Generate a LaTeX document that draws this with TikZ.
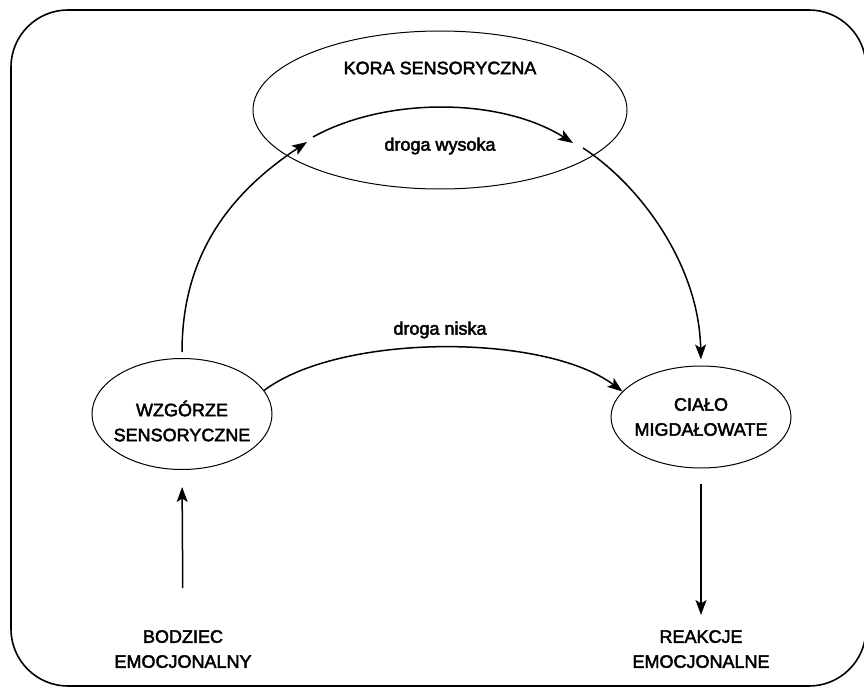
\documentclass[tikz,border=0pt]{standalone}
\usepackage{fontspec}
\setmainfont{Liberation Sans}[FakeBold=2.5]
\usetikzlibrary{shapes.geometric,arrows.meta}
\begin{document}
\begin{tikzpicture}[x=1pt,y=-1pt,
  lbl/.style={font=\fontsize{18}{25}\selectfont, align=center, inner sep=0pt},
  oval/.style={ellipse, draw, line width=1pt, inner sep=0pt},
  arr/.style={line width=1.5pt, -{Stealth[length=15pt,width=11pt,inset=3.5pt]}},
  frame/.style={line width=1.6pt, rounded corners=57pt}]
  \useasboundingbox (0,0) rectangle (864,687);
  % outer rounded frame
  \draw[frame] (11,10) rectangle (866,686);

  % structures
  \node[oval, minimum width=374pt, minimum height=158pt] (kora) at (440,110) {};
  \node[lbl] (koraT) at (440,68) {KORA SENSORYCZNA};
  \node[lbl] (wys) at (440,146) {droga wysoka};
  \node[oval, minimum width=180pt, minimum height=111pt] (wz) at (182,414) {};
  \node[lbl] (wzT) at (182,421) {WZGÓRZE\\SENSORYCZNE};
  \node[oval, minimum width=180pt, minimum height=102pt] (ci) at (701,417) {};
  \node[lbl] (ciT) at (701,417) {CIAŁO\\MIGDAŁOWATE};
  \node[lbl] (nis) at (440,330) {droga niska};
  \node[lbl, anchor=north] (bod) at (183,630) {BODZIEC\\EMOCJONALNY};
  \node[lbl, anchor=north] (reak) at (701,630) {REAKCJE\\EMOCJONALNE};

  % break points of the high route
  \coordinate (k1) at (307,142);
  \coordinate (k2) at (313,137);
  \coordinate (k3) at (573,143);
  \coordinate (k4) at (583,148);

  % high route through the cortex
  \draw[arr, shorten <=6pt] (wz.north) .. controls (182,250) and (235,190) .. (k1);
  \draw[arr] (k2) .. controls (385,97) and (500,97) .. (k3);
  \draw[arr, shorten >=6pt] (k4) .. controls (640,185) and (699,265) .. (ci.north);

  % low route
  \draw[arr] (wz.16) .. controls (340,333) and (545,333) .. (ci.162);

  % input and output
  \draw[arr, shorten <=42pt, shorten >=17pt] (bod.north) -- (wz.south);
  \draw[arr, shorten <=15pt, shorten >=15pt] (ci.south) -- (reak.north);
\end{tikzpicture}
\end{document}
